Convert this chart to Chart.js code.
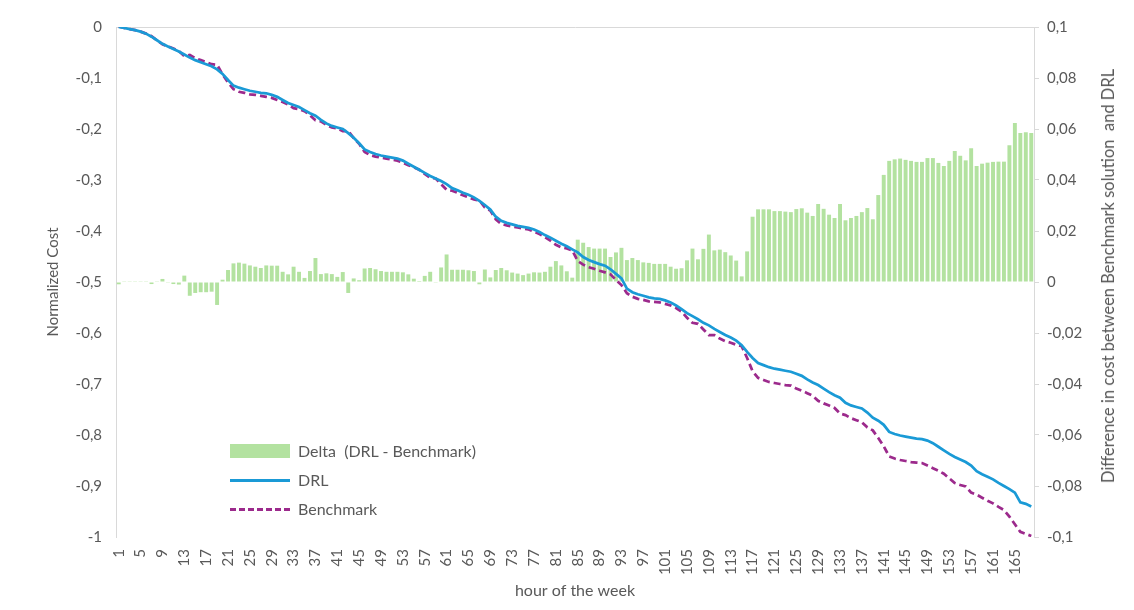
<!DOCTYPE html>
<html>
<head>
<meta charset="utf-8">
<script src="https://cdn.jsdelivr.net/npm/chart.js@4/dist/chart.umd.min.js"></script>
<style>
  body { margin: 0; background: #fff; }
  #wrap { position: relative; width: 1134px; height: 610px; }
  #legend { position: absolute; left: 230px; top: 436px; font-family: Lato, sans-serif; font-size: 16px; color: #595959; }
  .row { height: 29px; display: flex; align-items: center; }
  .sw { width: 60px; height: 14px; margin-right: 8px; position: relative; }
  #rtitle { position: absolute; left: 1108px; top: 276px; transform: translate(-50%, -50%) rotate(-90deg);
            white-space: pre; font-family: Lato, sans-serif; font-size: 16.5px; color: #595959; }
</style>
</head>
<body>
<div id="wrap">
  <canvas id="chart" width="1134" height="610"></canvas>
  <div id="legend">
    <div class="row"><div class="sw" style="background:#b3e2a0"></div>Delta&nbsp; (DRL - Benchmark)</div>
    <div class="row"><div class="sw"><div style="position:absolute;top:6px;width:60px;border-top:3px solid #1a9ad6"></div></div>DRL</div>
    <div class="row"><div class="sw"><div style="position:absolute;top:6px;width:60px;border-top:3px dashed #9c2a8c"></div></div>Benchmark</div>
  </div>
  <div id="rtitle">Difference in cost between Benchmark solution  and DRL</div>
</div>
<script>
// hours 1..168
let hours = []
for (let h = 1; h <= 168; h++) hours.push(String(h))

// normalized cost, DRL
let drlCost = [
  0, -0.002, -0.004, -0.006, -0.009, -0.013, -0.019, -0.026, -0.033, -0.038,
  -0.043, -0.048, -0.054, -0.060, -0.065, -0.069, -0.073, -0.077, -0.083, -0.092,
  -0.104, -0.115, -0.119, -0.122, -0.125, -0.127, -0.129, -0.130, -0.133, -0.137,
  -0.143, -0.149, -0.153, -0.157, -0.163, -0.169, -0.174, -0.182, -0.189, -0.194,
  -0.197, -0.200, -0.208, -0.217, -0.228, -0.240, -0.245, -0.249, -0.252, -0.254,
  -0.256, -0.258, -0.262, -0.268, -0.274, -0.280, -0.286, -0.292, -0.297, -0.302,
  -0.308, -0.316, -0.320, -0.325, -0.329, -0.334, -0.341, -0.349, -0.358, -0.372,
  -0.380, -0.384, -0.387, -0.390, -0.392, -0.394, -0.397, -0.402, -0.408, -0.413,
  -0.419, -0.425, -0.430, -0.436, -0.442, -0.451, -0.457, -0.461, -0.465, -0.468,
  -0.475, -0.484, -0.493, -0.513, -0.520, -0.524, -0.527, -0.530, -0.532, -0.533,
  -0.536, -0.540, -0.546, -0.553, -0.561, -0.567, -0.573, -0.580, -0.585, -0.592,
  -0.598, -0.604, -0.609, -0.615, -0.624, -0.637, -0.649, -0.659, -0.663, -0.667,
  -0.670, -0.672, -0.674, -0.676, -0.680, -0.684, -0.691, -0.697, -0.702, -0.709,
  -0.716, -0.722, -0.727, -0.737, -0.742, -0.745, -0.748, -0.756, -0.766, -0.772,
  -0.780, -0.794, -0.798, -0.801, -0.803, -0.805, -0.807, -0.808, -0.811, -0.816,
  -0.823, -0.830, -0.837, -0.843, -0.848, -0.853, -0.860, -0.871, -0.877, -0.882,
  -0.887, -0.894, -0.900, -0.906, -0.913, -0.932, -0.935, -0.940
]

// normalized cost, benchmark
let benchCost = [
  0.001, -0.002, -0.004, -0.006, -0.009, -0.013, -0.018, -0.026, -0.034, -0.038,
  -0.042, -0.047, -0.057, -0.055, -0.061, -0.065, -0.069, -0.073, -0.074, -0.093,
  -0.109, -0.122, -0.127, -0.129, -0.132, -0.133, -0.135, -0.137, -0.139, -0.143,
  -0.147, -0.152, -0.159, -0.161, -0.165, -0.173, -0.183, -0.185, -0.192, -0.197,
  -0.199, -0.204, -0.204, -0.218, -0.229, -0.245, -0.251, -0.254, -0.256, -0.258,
  -0.260, -0.262, -0.266, -0.271, -0.275, -0.280, -0.288, -0.296, -0.297, -0.308,
  -0.319, -0.321, -0.325, -0.330, -0.334, -0.338, -0.340, -0.354, -0.360, -0.377,
  -0.386, -0.389, -0.391, -0.393, -0.395, -0.397, -0.401, -0.406, -0.412, -0.419,
  -0.427, -0.432, -0.434, -0.438, -0.459, -0.466, -0.471, -0.474, -0.478, -0.481,
  -0.485, -0.496, -0.506, -0.522, -0.529, -0.533, -0.535, -0.538, -0.539, -0.540,
  -0.543, -0.546, -0.551, -0.558, -0.570, -0.580, -0.582, -0.593, -0.604, -0.604,
  -0.611, -0.616, -0.619, -0.623, -0.626, -0.649, -0.675, -0.688, -0.692, -0.696,
  -0.698, -0.700, -0.702, -0.703, -0.709, -0.713, -0.718, -0.723, -0.733, -0.738,
  -0.742, -0.747, -0.758, -0.761, -0.767, -0.771, -0.775, -0.785, -0.791, -0.806,
  -0.822, -0.842, -0.846, -0.849, -0.851, -0.853, -0.854, -0.855, -0.860, -0.865,
  -0.870, -0.876, -0.885, -0.894, -0.898, -0.901, -0.913, -0.917, -0.923, -0.929,
  -0.934, -0.941, -0.947, -0.960, -0.975, -0.990, -0.994, -0.998
]

// delta (DRL - Benchmark), right axis
let delta = [
  -0.0009, 0.0003, 0.0003, 0.0003, 0.0003, 0.0003, -0.0008, 0.0003, 0.0012, -0.0003,
  -0.0008, -0.0010, 0.0025, -0.0054, -0.0043, -0.0040, -0.0040, -0.0038, -0.0090, 0.0009,
  0.0047, 0.0073, 0.0076, 0.0072, 0.0065, 0.0060, 0.0055, 0.0065, 0.0064, 0.0064,
  0.0040, 0.0030, 0.0060, 0.0040, 0.0016, 0.0043, 0.0094, 0.0031, 0.0034, 0.0031,
  0.0020, 0.0039, -0.0043, 0.0014, 0.0007, 0.0053, 0.0055, 0.0050, 0.0043, 0.0040,
  0.0040, 0.0040, 0.0038, 0.0030, 0.0013, 0.0004, 0.0024, 0.0040, -0.0003, 0.0057,
  0.0108, 0.0048, 0.0048, 0.0048, 0.0046, 0.0043, -0.0009, 0.0049, 0.0018, 0.0047,
  0.0055, 0.0046, 0.0037, 0.0033, 0.0027, 0.0033, 0.0038, 0.0037, 0.0040, 0.0060,
  0.0082, 0.0065, 0.0042, 0.0017, 0.0166, 0.0154, 0.0137, 0.0131, 0.0131, 0.0131,
  0.0098, 0.0116, 0.0134, 0.0086, 0.0094, 0.0086, 0.0077, 0.0075, 0.0071, 0.0071,
  0.0071, 0.0060, 0.0052, 0.0054, 0.0085, 0.0131, 0.0089, 0.0130, 0.0186, 0.0124,
  0.0127, 0.0117, 0.0104, 0.0084, 0.0022, 0.0120, 0.0256, 0.0285, 0.0285, 0.0285,
  0.0278, 0.0278, 0.0276, 0.0274, 0.0286, 0.0289, 0.0272, 0.0259, 0.0306, 0.0287,
  0.0264, 0.0251, 0.0306, 0.0242, 0.0251, 0.0259, 0.0274, 0.0290, 0.0246, 0.0341,
  0.0420, 0.0475, 0.0481, 0.0484, 0.0479, 0.0475, 0.0471, 0.0471, 0.0486, 0.0486,
  0.0467, 0.0455, 0.0475, 0.0514, 0.0495, 0.0477, 0.0525, 0.0455, 0.0464, 0.0468,
  0.0471, 0.0472, 0.0472, 0.0536, 0.0624, 0.0584, 0.0587, 0.0584
]

let font = { family: 'Lato, sans-serif', size: 15 }
let grey = '#595959'
let axisGrey = '#d9d9d9'

// decimal comma like the original
function comma(v) {
  return String(Math.round(v * 100) / 100).replace('.', ',')
}

let ctx = document.querySelector('#chart').getContext('2d')

let chart = new Chart(ctx, {
  type: 'bar',
  data: {
    labels: hours,
    datasets: [
      {
        type: 'line',
        label: 'DRL',
        data: drlCost,
        yAxisID: 'y',
        borderColor: '#1a9ad6',
        borderWidth: 2.75,
        pointRadius: 0,
        order: 1
      },
      {
        type: 'line',
        label: 'Benchmark',
        data: benchCost,
        yAxisID: 'y',
        borderColor: '#9c2a8c',
        borderWidth: 2.75,
        borderDash: [7, 4],
        pointRadius: 0,
        order: 2
      },
      {
        label: 'Delta  (DRL - Benchmark)',
        data: delta,
        yAxisID: 'y1',
        backgroundColor: '#b3e2a0',
        barPercentage: 0.72,
        categoryPercentage: 1,
        order: 3
      }
    ]
  },
  options: {
    responsive: false,
    animation: false,
    layout: { padding: { left: 40, right: 18, top: 27, bottom: 10 } },
    plugins: { legend: { display: false }, tooltip: { enabled: false } },
    scales: {
      x: {
        grid: { display: false },
        border: { display: false },
        ticks: {
          autoSkip: false,
          minRotation: 90,
          maxRotation: 90,
          padding: 4,
          color: grey,
          font: font,
          callback: function (val, i) { return i % 4 == 0 ? hours[i] : '' }
        },
        title: { display: true, text: 'hour of the week', color: grey, font: { family: 'Lato, sans-serif', size: 16 }, padding: 0 },
        afterFit: function (s) { s.height = 63 }
      },
      y: {
        position: 'left',
        min: -1,
        max: 0,
        border: { display: true, color: axisGrey },
        grid: {
          drawTicks: false,
          // only the zero line, that is where the category axis crosses
          color: function (c) { return c.tick && c.tick.value == 0 ? axisGrey : 'rgba(0,0,0,0)' }
        },
        ticks: { stepSize: 0.1, padding: 14, color: grey, font: font, callback: comma },
        title: { display: true, text: 'Normalized Cost', color: grey, font: font, padding: 4 },
        afterFit: function (s) { s.width = 76 }
      },
      y1: {
        position: 'right',
        min: -0.1,
        max: 0.1,
        border: { display: true, color: axisGrey },
        grid: { drawOnChartArea: false, tickLength: 5, color: axisGrey },
        ticks: { stepSize: 0.02, padding: 8, color: grey, font: font, callback: comma },
        // title is the html div, it reads bottom to top
        afterFit: function (s) { s.width = 82 }
      }
    }
  }
})
</script>
</body>
</html>
